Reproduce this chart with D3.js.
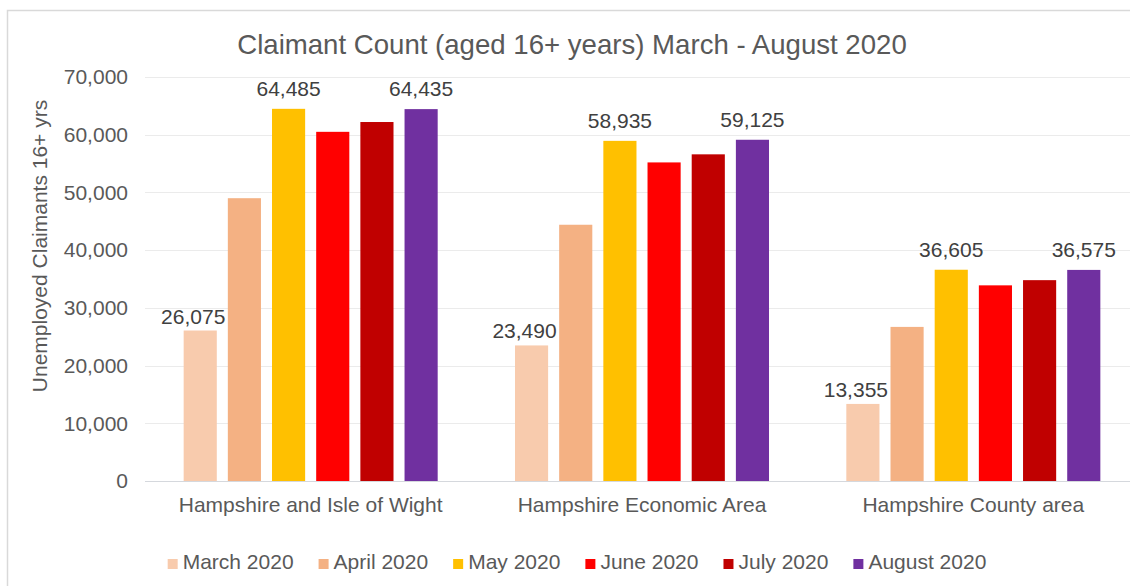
<!DOCTYPE html>
<html>
<head>
<meta charset="utf-8">
<script src="https://cdn.jsdelivr.net/npm/d3@7"></script>
<style>
  html, body { margin: 0; padding: 0; background: #fff; }
  svg { display: block; font-family: "Liberation Sans", Arial, sans-serif; }
</style>
</head>
<body>
<svg id="chart" width="1130" height="586"></svg>
<script>
// ---- data ----
const categories = ["Hampshire and Isle of Wight", "Hampshire Economic Area", "Hampshire County area"];
const seriesNames = ["March 2020", "April 2020", "May 2020", "June 2020", "July 2020", "August 2020"];
const march2020  = [26075, 23490, 13355];
const april2020  = [49000, 44400, 26700];
const may2020    = [64485, 58935, 36605];
const june2020   = [60500, 55200, 33900];
const july2020   = [62200, 56600, 34800];
const august2020 = [64435, 59125, 36575];
const yTicks = [0, 10000, 20000, 30000, 40000, 50000, 60000, 70000];
const labelledSeries = ["March 2020", "May 2020", "August 2020"];

const seriesValues = [march2020, april2020, may2020, june2020, july2020, august2020];
const colors = ["#F8CBAD", "#F4B183", "#FFC000", "#FF0000", "#C00000", "#7030A0"];

// ---- layout ----
const svg = d3.select("#chart");
const plot = { left: 145, right: 1139, top: 77, bottom: 481 };

// frame
svg.append("rect")
  .attr("x", 7.5).attr("y", 10.5).attr("width", 1200).attr("height", 700)
  .attr("fill", "#fff").attr("stroke", "#d9d9d9").attr("stroke-width", 1.5);

const y = d3.scaleLinear().domain([0, 70000]).range([plot.bottom, plot.top]);
const x0 = d3.scaleBand().domain(categories).range([plot.left, plot.right]).padding(0);
const x1 = d3.scaleBand().domain(seriesNames).range([0, x0.bandwidth()])
  .paddingInner(0.25).paddingOuter(0.875);
const fmt = d3.format(",");

// gridlines
svg.append("g").selectAll("line")
  .data(yTicks.filter(d => d > 0))
  .join("line")
  .attr("x1", plot.left).attr("x2", 1130)
  .attr("y1", d => Math.round(y(d)) + 0.5).attr("y2", d => Math.round(y(d)) + 0.5)
  .attr("stroke", "#ebebeb").attr("stroke-width", 1);

// y axis labels
const yAxis = d3.axisLeft(y).tickValues(yTicks).tickFormat(fmt).tickSize(0).tickPadding(17);
const yg = svg.append("g").attr("transform", `translate(${plot.left},0)`).call(yAxis);
yg.select(".domain").remove();
yg.selectAll("text")
  .attr("font-size", 21).attr("fill", "#595959")
  .attr("font-family", "Liberation Sans, Arial, sans-serif");

// bars
const groups = svg.append("g").selectAll("g")
  .data(categories)
  .join("g")
  .attr("transform", d => `translate(${x0(d)},0)`);

groups.selectAll("rect")
  .data((c, ci) => seriesNames.map((s, si) => ({ s, si, v: seriesValues[si][ci] })))
  .join("rect")
  .attr("x", d => x1(d.s))
  .attr("y", d => y(d.v))
  .attr("width", x1.bandwidth())
  .attr("height", d => y(0) - y(d.v))
  .attr("fill", d => colors[d.si]);

// data labels
groups.selectAll("text.lbl")
  .data((c, ci) => seriesNames.map((s, si) => ({ s, si, v: seriesValues[si][ci] }))
    .filter(d => labelledSeries.includes(d.s)))
  .join("text")
  .attr("class", "lbl")
  .attr("x", d => x1(d.s) + x1.bandwidth() / 2 + (d.si === 0 ? -7 : 0))
  .attr("y", d => y(d.v) - (d.si === 0 ? 7 : 13))
  .attr("text-anchor", "middle")
  .attr("font-size", 21).attr("fill", "#404040")
  .text(d => fmt(d.v));

// x axis line
svg.append("line")
  .attr("x1", plot.left).attr("x2", 1130)
  .attr("y1", plot.bottom + 0.5).attr("y2", plot.bottom + 0.5)
  .attr("stroke", "#d5d8dd").attr("stroke-width", 1.2);

// category labels
const xAxis = d3.axisBottom(x0).tickSize(0).tickPadding(16);
const xg = svg.append("g").attr("transform", `translate(0,${plot.bottom})`).call(xAxis);
xg.select(".domain").remove();
xg.selectAll("text")
  .attr("font-size", 21).attr("fill", "#595959")
  .attr("font-family", "Liberation Sans, Arial, sans-serif");

// title
svg.append("text")
  .attr("x", 572).attr("y", 54)
  .attr("text-anchor", "middle")
  .attr("font-size", 27.6).attr("fill", "#595959")
  .text("Claimant Count (aged 16+ years) March - August 2020");

// y axis title
svg.append("text")
  .attr("transform", "translate(47,246) rotate(-90)")
  .attr("text-anchor", "middle")
  .attr("font-size", 21).attr("fill", "#595959")
  .text("Unemployed Claimants 16+ yrs");

// legend
const legend = svg.append("g");
let cx = 0;
seriesNames.forEach((s, i) => {
  const g = legend.append("g");
  g.append("rect").attr("x", 0).attr("y", -10).attr("width", 10).attr("height", 10).attr("fill", colors[i]);
  const t = g.append("text").attr("x", 15).attr("y", 0)
    .attr("font-size", 21).attr("fill", "#595959").text(s);
  const w = 15 + t.node().getComputedTextLength();
  g.attr("transform", `translate(${cx},0)`);
  cx += w + 25;
});
const total = cx - 25;
legend.attr("transform", `translate(${577 - total / 2},569)`);
</script>
</body>
</html>
